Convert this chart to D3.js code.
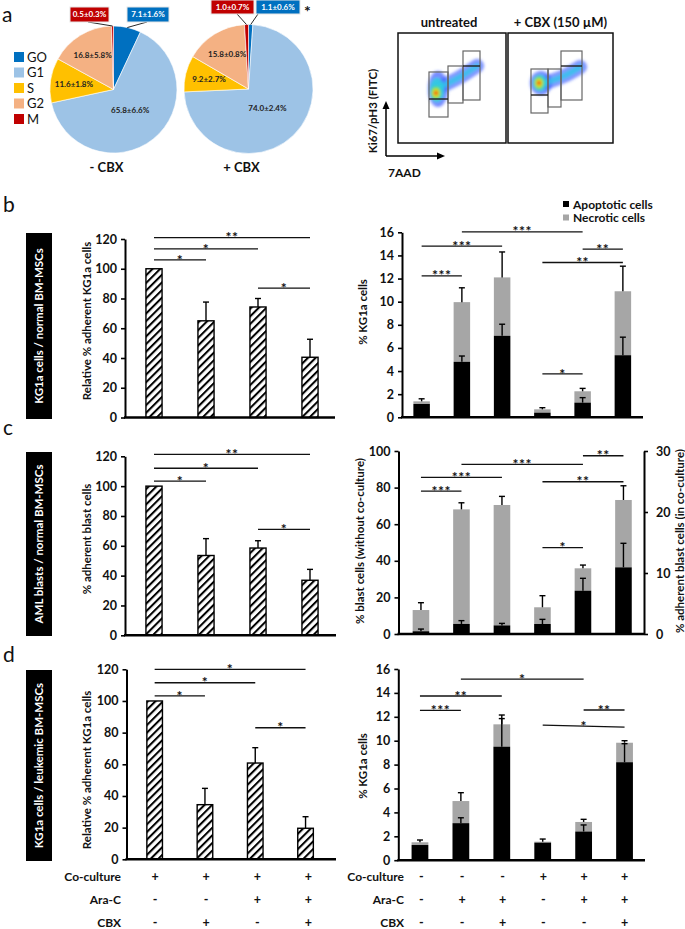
<!DOCTYPE html>
<html><head><meta charset="utf-8">
<script src="https://cdn.jsdelivr.net/npm/d3@7"></script>
<style>
body{margin:0;background:#fff}
svg{display:block;font-family:Lato,"Open Sans",sans-serif}
</style></head><body>
<svg id="fig" width="685" height="929"></svg>
<script>
// ---------------- DATA ----------------
const phaseNames = ["GO","G1","S","G2","M"];
const pieMinusCBX = [7.1, 65.8, 11.6, 16.8, 0.5];
const pieMinusCBXsd = [1.6, 6.6, 1.8, 5.8, 0.3];
const piePlusCBX = [1.1, 74.0, 9.2, 15.8, 1.0];
const piePlusCBXsd = [0.6, 2.4, 2.7, 0.8, 0.7];
const pieTitles = ["- CBX", "+ CBX"];
const flowTitles = ["untreated", "+ CBX (150 µM)"];
const flowAxisTitles = ["Ki67/pH3 (FITC)", "7AAD"];

const adhesionGroups = [1,2,3,4];
const adhB = [100, 65, 74.3, 40.5];
const adhBErr = [0, 12.6, 5.7, 12.1];
const adhC = [100, 53.5, 58.5, 36.9];
const adhCErr = [0, 11.3, 4.9, 7.3];
const adhD = [100, 34.5, 60.8, 19.6];
const adhDErr = [0, 10.3, 9.7, 7.3];

const deathGroups = [1,2,3,4,5,6];
const apopB = [1.15, 4.8, 7.05, 0.4, 1.27, 5.37];
const apopBErr = [0, 0.5, 1.0, 0, 0.43, 1.56];
const totalB = [1.38, 9.96, 12.1, 0.69, 2.25, 10.9];
const totalBErr = [0.22, 1.24, 2.2, 0.14, 0.25, 2.17];

// panel c: groups 1-3 on left axis (without co-culture), 4-6 on right axis (in co-culture)
const apopC = [1.5, 5.5, 4.7, 1.64, 7.1, 10.93];
const apopCErr = [1.2, 1.8, 1.1, 0.76, 2.03, 3.94];
const totalC = [13.1, 68.1, 70.5, 4.38, 10.77, 21.97];
const totalCErr = [4.0, 3.6, 4.7, 1.9, 0.53, 2.33];
const cAxisOf = ["L","L","L","R","R","R"];

const apopD = [1.27, 3.1, 9.5, 1.47, 2.4, 8.2];
const apopDErr = [0, 0.45, 2.35, 0, 0.55, 1.55];
const totalD = [1.5, 4.95, 11.37, 1.55, 3.2, 9.83];
const totalDErr = [0.19, 0.7, 0.78, 0.22, 0.22, 0.17];

const tickAdh = [0,20,40,60,80,100,120];
const tickKG = [0,2,4,6,8,10,12,14,16];
const tickBlastL = [0,20,40,60,80,100];
const tickBlastR = [0,10,20,30];

// significance: [groupA, groupB, height (data units), label, optional end height]
const sigAdhB = [[1,4,120.9,"**"],[1,3,113.3,"*"],[1,2,105.9,"*"],[3,4,87,"*"]];
const sigAdhC = [[1,4,121.3,"**"],[1,3,112,"*"],[1,2,103.4,"*"],[3,4,71,"*"]];
const sigAdhD = [[1,4,120,"*"],[1,3,111.5,"*"],[1,2,103.2,"*"],[3,4,83.1,"*"]];
const sigDeathB = [[2,5,16.04,"***"],[1,3,14.8,"***"],[1,2,12.23,"***"],[5,6,14.55,"**"],[4,6,13.39,"**"],[4,5,3.75,"*"]];
const sigDeathC = [[5,6,97.4,"**"],[2,5,92.7,"***"],[1,3,85.6,"***"],[4,6,83.2,"**"],[1,2,78.1,"***"],[4,5,47.2,"*"]];
const sigDeathD = [[2,5,15.16,"*"],[1,3,13.74,"**"],[1,2,12.54,"***"],[5,6,12.57,"**"],[4,6,11.3,"*",11.13]];

const rowLabels = ["Co-culture","Ara-C","CBX"];
const tableAdh = [["+","+","+","+"],["-","-","+","+"],["-","+","-","+"]];
const tableDeath = [["-","-","-","+","+","+"],["-","+","+","-","+","+"],["-","-","+","-","-","+"]];

const panelTitles = {
  b: "KG1a cells / normal BM-MSCs",
  c: "AML blasts / normal BM-MSCs",
  d: "KG1a cells / leukemic BM-MSCs"
};

// ---------------- STYLE ----------------
const phaseColors = ["#0070C0","#9DC3E6","#FFC000","#F4B183","#C00000"];
const TXT = "#111";
const GRAY = "#A6A6A6";

const svg = d3.select("#fig");
const defs = svg.append("defs");
const pat = defs.append("pattern").attr("id","hatch").attr("patternUnits","userSpaceOnUse")
  .attr("width",5.4).attr("height",5.4).attr("patternTransform","rotate(45)");
pat.append("rect").attr("width",5.4).attr("height",5.4).attr("fill","#fff");
pat.append("line").attr("x1",1).attr("x2",1).attr("y1",-1).attr("y2",6.4).attr("stroke","#000").attr("stroke-width",2.1);
const blur = defs.append("filter").attr("id","blur").attr("x","-50%").attr("y","-50%").attr("width","200%").attr("height","200%");
blur.append("feGaussianBlur").attr("stdDeviation",1.8);

function panelLetter(t,x,y){
  svg.append("text").attr("x",x).attr("y",y).attr("font-size",21).attr("fill",TXT).text(t);
}
function vText(t,x,y,size,opts={}){
  return svg.append("text").attr("transform",`translate(${x},${y}) rotate(-90)`)
    .attr("text-anchor","middle").attr("dy","0.35em").attr("font-size",size)
    .attr("font-weight",opts.weight||700).attr("fill",opts.fill||TXT).text(t);
}

// ---------------- PANEL A: pies ----------------
panelLetter("a",2,22);
const legG = svg.append("g");
phaseNames.forEach((p,i)=>{
  legG.append("rect").attr("x",14).attr("y",52+i*15.5).attr("width",10).attr("height",10).attr("fill",phaseColors[i]);
  legG.append("text").attr("x",27).attr("y",61.5+i*15.5).attr("font-size",13).attr("fill",TXT).text(p);
});

const pies = [
  {vals:pieMinusCBX, sd:pieMinusCBXsd, cx:113.5, cy:89.5, r:63.5, title:pieTitles[0],
   boxes:{0:[127,7,42,15],4:[70,7,39,15]}},
  {vals:piePlusCBX, sd:piePlusCBXsd, cx:248.5, cy:89, r:64.5, title:pieTitles[1],
   boxes:{0:[256,0,44,14],4:[211,0,43,14]}}
];
const pieGen = d3.pie().sort(null).value(d=>d);
pies.forEach((P,pi)=>{
  const g = svg.append("g").attr("transform",`translate(${P.cx},${P.cy})`);
  const arcs = pieGen(P.vals);
  const arc = d3.arc().innerRadius(0).outerRadius(P.r);
  g.selectAll("path").data(arcs).join("path").attr("d",arc)
    .attr("fill",(d,i)=>phaseColors[i]).attr("stroke","#fff").attr("stroke-width",0.6);
  arcs.forEach((a,i)=>{
    const lbl = `${P.vals[i].toFixed(1)}±${P.sd[i].toFixed(1)}%`;
    if (P.boxes[i]) {
      const [bx,by,bw,bh] = P.boxes[i];
      const mid = (a.startAngle+a.endAngle)/2;
      const ex = P.cx + P.r*Math.sin(mid), ey = P.cy - P.r*Math.cos(mid);
      const sx = i===0 ? (pi===0? bx+20 : bx+2) : (pi===0? bx+18 : bx+26);
      svg.append("line").attr("x1",sx).attr("y1",by+bh).attr("x2",ex).attr("y2",ey)
        .attr("stroke","#111").attr("stroke-width",0.9);
      svg.append("rect").attr("x",bx).attr("y",by).attr("width",bw).attr("height",bh)
        .attr("fill",phaseColors[i]).attr("stroke","#e6e6e6").attr("stroke-width",1);
      svg.append("text").attr("x",bx+bw/2).attr("y",by+bh/2).attr("dy","0.35em").attr("text-anchor","middle")
        .attr("font-size",8).attr("font-weight",700).attr("fill","#fff").text(lbl);
    } else {
      const f = i===1 ? 0.42 : 0.63;
      const la = d3.arc().innerRadius(P.r*f).outerRadius(P.r*f);
      const [lx,ly] = la.centroid(a);
      g.append("text").attr("x",lx).attr("y",ly).attr("dy","0.35em").attr("text-anchor","middle")
        .attr("font-size",8).attr("font-weight",700).attr("fill","#222").text(lbl);
    }
  });
  svg.append("text").attr("x",P.cx-7).attr("y",172).attr("text-anchor","middle")
    .attr("font-size",13).attr("font-weight",700).attr("fill",TXT).text(P.title);
});
svg.append("text").attr("x",304).attr("y",17).attr("font-size",16).attr("font-weight",700).attr("fill",TXT).text("*");

// ---------------- PANEL A: flow cytometry ----------------
const flowBoxes = [{x:398,y:33,w:108,h:110},{x:508,y:33,w:105,h:110}];
const flowGates = [
  {rects:[[429,72,19,45],[448,66,15,37],[463,51,17,49]], lines:[[429,448,99],[463,480,66]]},
  {rects:[[531,69,17,44],[548,69,13,38],[561,51,21,49]], lines:[[531,548,95],[561,582,66]]}
];
const flowClouds = [
  {core:[436,93], outer:[438,89,10,18], tail:[[440,87],[460,77],[477,66]], mid:[437,90,7,12]},
  {core:[539,83], outer:[541,83,11,12], tail:[[545,83],[564,76],[580,67]], mid:[540,83,7,8]}
];
flowBoxes.forEach((b,i)=>{
  const c = flowClouds[i];
  const cg = svg.append("g").attr("filter","url(#blur)");
  cg.append("ellipse").attr("cx",c.outer[0]).attr("cy",c.outer[1]).attr("rx",c.outer[2]).attr("ry",c.outer[3]).attr("fill","#3a5cff").attr("opacity",0.7);
  cg.append("path").attr("d",d3.line().curve(d3.curveCatmullRom)(c.tail)).attr("stroke","#3a5cff").attr("stroke-width",14).attr("fill","none").attr("stroke-linecap","round").attr("opacity",0.65);
  cg.append("path").attr("d",d3.line().curve(d3.curveCatmullRom)(c.tail)).attr("stroke","#30c8e8").attr("stroke-width",5).attr("fill","none").attr("stroke-linecap","round").attr("opacity",0.8);
  cg.append("ellipse").attr("cx",c.mid[0]).attr("cy",c.mid[1]).attr("rx",c.mid[2]).attr("ry",c.mid[3]).attr("fill","#30d0e0").attr("opacity",0.9);
  cg.append("ellipse").attr("cx",c.core[0]).attr("cy",c.core[1]).attr("rx",5).attr("ry",6.5).attr("fill","#60e040");
  cg.append("ellipse").attr("cx",c.core[0]).attr("cy",c.core[1]).attr("rx",3.2).attr("ry",4).attr("fill","#f0e020");
  cg.append("circle").attr("cx",c.core[0]).attr("cy",c.core[1]).attr("r",2).attr("fill","#e82010");
  const gt = flowGates[i];
  gt.rects.forEach(r=>svg.append("rect").attr("x",r[0]).attr("y",r[1]).attr("width",r[2]).attr("height",r[3])
    .attr("fill","none").attr("stroke","#666").attr("stroke-width",1.2));
  gt.lines.forEach(l=>svg.append("line").attr("x1",l[0]).attr("x2",l[1]).attr("y1",l[2]).attr("y2",l[2])
    .attr("stroke","#222").attr("stroke-width",1.4));
  svg.append("rect").attr("x",b.x).attr("y",b.y).attr("width",b.w).attr("height",b.h)
    .attr("fill","none").attr("stroke","#111").attr("stroke-width",1.5);
  svg.append("text").attr("x",b.x+b.w/2+(i===0?-3:0)).attr("y",26.5).attr("text-anchor","middle")
    .attr("font-size",13).attr("font-weight",700).attr("fill",TXT).text(flowTitles[i]);
});
// arrows
svg.append("line").attr("x1",386).attr("x2",386).attr("y1",156).attr("y2",106).attr("stroke","#000").attr("stroke-width",1.5);
svg.append("path").attr("d","M386,101 L382.5,109 L389.5,109 Z").attr("fill","#000");
svg.append("line").attr("x1",386).attr("x2",440).attr("y1",156).attr("y2",156).attr("stroke","#000").attr("stroke-width",1.5);
svg.append("path").attr("d","M445,156 L437,152.5 L437,159.5 Z").attr("fill","#000");
vText(flowAxisTitles[0],373,111,11.5);
svg.append("text").attr("x",388).attr("y",177).attr("font-size",12).attr("font-weight",700).attr("fill",TXT).text(flowAxisTitles[1]);

// ---------------- helpers for bar panels ----------------
function styleAxis(ax){
  ax.select(".domain").attr("stroke","#000").attr("stroke-width",2);
  ax.selectAll(".tick line").attr("stroke","#000").attr("stroke-width",1.6);
  ax.selectAll(".tick text").attr("font-size",12.5).attr("font-weight",700).attr("fill",TXT).attr("font-family","Lato, sans-serif");
}
function sigLines(x,y,list){
  list.forEach(s=>{
    const xa=x(s[0]), xb=x(s[1]);
    const ya=y(s[2]), yb=y(s[4]!==undefined?s[4]:s[2]);
    svg.append("line").attr("x1",xa).attr("x2",xb).attr("y1",ya).attr("y2",yb).attr("stroke","#111").attr("stroke-width",1.3);
    svg.append("text").attr("x",(xa+xb)/2).attr("y",(ya+yb)/2+4.6).attr("text-anchor","middle")
      .attr("font-size",14).attr("font-weight",700).attr("letter-spacing",0.5).attr("fill",TXT).text(s[3]);
  });
}
function errBar(x,y0,y1,col){
  svg.append("line").attr("x1",x).attr("x2",x).attr("y1",y0).attr("y2",y1).attr("stroke",col||"#000").attr("stroke-width",1.4);
  svg.append("line").attr("x1",x-3).attr("x2",x+3).attr("y1",y1).attr("y2",y1).attr("stroke",col||"#000").attr("stroke-width",1.4);
}
function labelBox(t,y0,y1){
  svg.append("rect").attr("x",26).attr("y",y0).attr("width",26).attr("height",y1-y0).attr("fill","#000");
  vText(t,39,(y0+y1)/2,11.5,{fill:"#fff"});
}

function adhesionChart(o){
  const x = d3.scalePoint().domain(adhesionGroups).range(o.xRange).padding(0.5);
  const y = d3.scaleLinear().domain([0,120]).range([o.y0,o.y1]);
  const bw = x.step()*0.31;
  svg.append("g").selectAll("rect").data(o.vals).join("rect")
    .attr("x",(d,i)=>x(adhesionGroups[i])-bw/2).attr("y",d=>y(d))
    .attr("width",bw).attr("height",d=>o.y0-y(d))
    .attr("fill","url(#hatch)").attr("stroke","#000").attr("stroke-width",1.4);
  o.vals.forEach((v,i)=>{ if(o.errs[i]>0) errBar(x(adhesionGroups[i]),y(v),y(v+o.errs[i])); });
  const ax = svg.append("g").attr("transform",`translate(${o.axisX},0)`)
    .call(d3.axisLeft(y).tickValues(tickAdh).tickSize(4).tickSizeOuter(0).tickPadding(4));
  styleAxis(ax);
  svg.append("line").attr("x1",o.axisX-1).attr("x2",o.baseEnd).attr("y1",o.y0).attr("y2",o.y0).attr("stroke","#000").attr("stroke-width",2.4);
  sigLines(x,y,o.sig);
  vText(o.title,87,o.titleY,11.5);
}

function deathChart(o){
  const x = d3.scalePoint().domain(deathGroups).range(o.xRange).padding(0.5);
  const yL = d3.scaleLinear().domain([0,o.maxL]).range([o.y0,o.y1]);
  const yR = o.maxR ? d3.scaleLinear().domain([0,o.maxR]).range([o.y0,o.y1]) : null;
  const bw = x.step()*0.41;
  deathGroups.forEach((gk,i)=>{
    const y = (o.axisOf && o.axisOf[i]==="R") ? yR : yL;
    const cx = x(gk);
    svg.append("rect").attr("x",cx-bw/2).attr("y",y(o.total[i])).attr("width",bw).attr("height",y(o.apop[i])-y(o.total[i])).attr("fill",GRAY);
    svg.append("rect").attr("x",cx-bw/2).attr("y",y(o.apop[i])).attr("width",bw).attr("height",o.y0-y(o.apop[i])).attr("fill","#000");
    if (o.totalErr[i]>0) errBar(cx,y(o.total[i]),y(o.total[i]+o.totalErr[i]));
    if (o.apopErr[i]>0) errBar(cx,y(o.apop[i]),y(o.apop[i]+o.apopErr[i]));
  });
  const ax = svg.append("g").attr("transform",`translate(${o.axisX},0)`)
    .call(d3.axisLeft(yL).tickValues(o.ticksL).tickSize(4).tickSizeOuter(0).tickPadding(4));
  styleAxis(ax);
  if (yR){
    const axr = svg.append("g").attr("transform",`translate(${o.axisRX},0)`)
      .call(d3.axisRight(yR).tickValues(o.ticksR).tickSize(4).tickSizeOuter(0).tickPadding(8));
    styleAxis(axr);
  }
  svg.append("line").attr("x1",o.axisX-1).attr("x2",o.baseEnd).attr("y1",o.y0).attr("y2",o.y0).attr("stroke","#000").attr("stroke-width",2.4);
  sigLines(x,yL,o.sig);
  vText(o.title,o.titleX,o.titleY,11.5);
  if (o.titleR) vText(o.titleR,680,o.titleY,11.5);
}

// ---------------- PANEL B ----------------
panelLetter("b",3,212);
labelBox(panelTitles.b,233,419);
adhesionChart({vals:adhB,errs:adhBErr,sig:sigAdhB,y0:417.5,y1:239,axisX:125,xRange:[128,336],baseEnd:335,
  title:"Relative % adherent KG1a cells",titleY:321});
deathChart({apop:apopB,apopErr:apopBErr,total:totalB,totalErr:totalBErr,sig:sigDeathB,maxL:16,ticksL:tickKG,
  y0:417.3,y1:232.3,axisX:402,xRange:[401.5,643],baseEnd:643,title:"% KG1a cells",titleX:363,titleY:312});
// legend
[["Apoptotic cells","#000"],["Necrotic cells",GRAY]].forEach((l,i)=>{
  svg.append("rect").attr("x",563).attr("y",201+i*13.5).attr("width",6).attr("height",6).attr("fill",l[1]);
  svg.append("text").attr("x",573).attr("y",208.5+i*13.5).attr("font-size",12).attr("font-weight",700).attr("fill",TXT).text(l[0]);
});

// ---------------- PANEL C ----------------
panelLetter("c",3,435);
labelBox(panelTitles.c,452,636);
adhesionChart({vals:adhC,errs:adhCErr,sig:sigAdhC,y0:635.3,y1:456.3,axisX:125,xRange:[128,336],baseEnd:336,
  title:"% adherent blast cells",titleY:539});
deathChart({apop:apopC,apopErr:apopCErr,total:totalC,totalErr:totalCErr,sig:sigDeathC,axisOf:cAxisOf,
  maxL:100,ticksL:tickBlastL,maxR:30,ticksR:tickBlastR,axisRX:644,
  y0:634,y1:451,axisX:398.5,xRange:[400.7,643.7],baseEnd:644,
  title:"% blast cells (without co-culture)",titleX:360,titleY:541,titleR:"% adherent blast cells (in co-culture)"});

// ---------------- PANEL D ----------------
panelLetter("d",3,662);
labelBox(panelTitles.d,670,861);
adhesionChart({vals:adhD,errs:adhDErr,sig:sigAdhD,y0:859.3,y1:669.3,axisX:126.5,xRange:[129.5,330.7],baseEnd:336,
  title:"Relative % adherent KG1a cells",titleY:770});
deathChart({apop:apopD,apopErr:apopDErr,total:totalD,totalErr:totalDErr,sig:sigDeathD,maxL:16,ticksL:tickKG,
  y0:860.2,y1:669,axisX:398.3,xRange:[399.5,645],baseEnd:645,title:"% KG1a cells",titleX:363,titleY:766});

// ---------------- condition tables ----------------
function condTable(xScaleGroups,xRange,labelX,rows){
  const x = d3.scalePoint().domain(xScaleGroups).range(xRange).padding(0.5);
  rowLabels.forEach((r,ri)=>{
    const yy = 881+ri*23;
    svg.append("text").attr("x",labelX).attr("y",yy).attr("text-anchor","end").attr("font-size",12)
      .attr("font-weight",700).attr("fill",TXT).text(r);
    rows[ri].forEach((s,ci)=>{
      svg.append("text").attr("x",x(xScaleGroups[ci])).attr("y",yy).attr("text-anchor","middle")
        .attr("font-size",12.5).attr("font-weight",700).attr("fill",TXT).text(s);
    });
  });
}
condTable(adhesionGroups,[129.5,334],121,tableAdh);
condTable(deathGroups,[401,645],404,tableDeath);
</script></body></html>
